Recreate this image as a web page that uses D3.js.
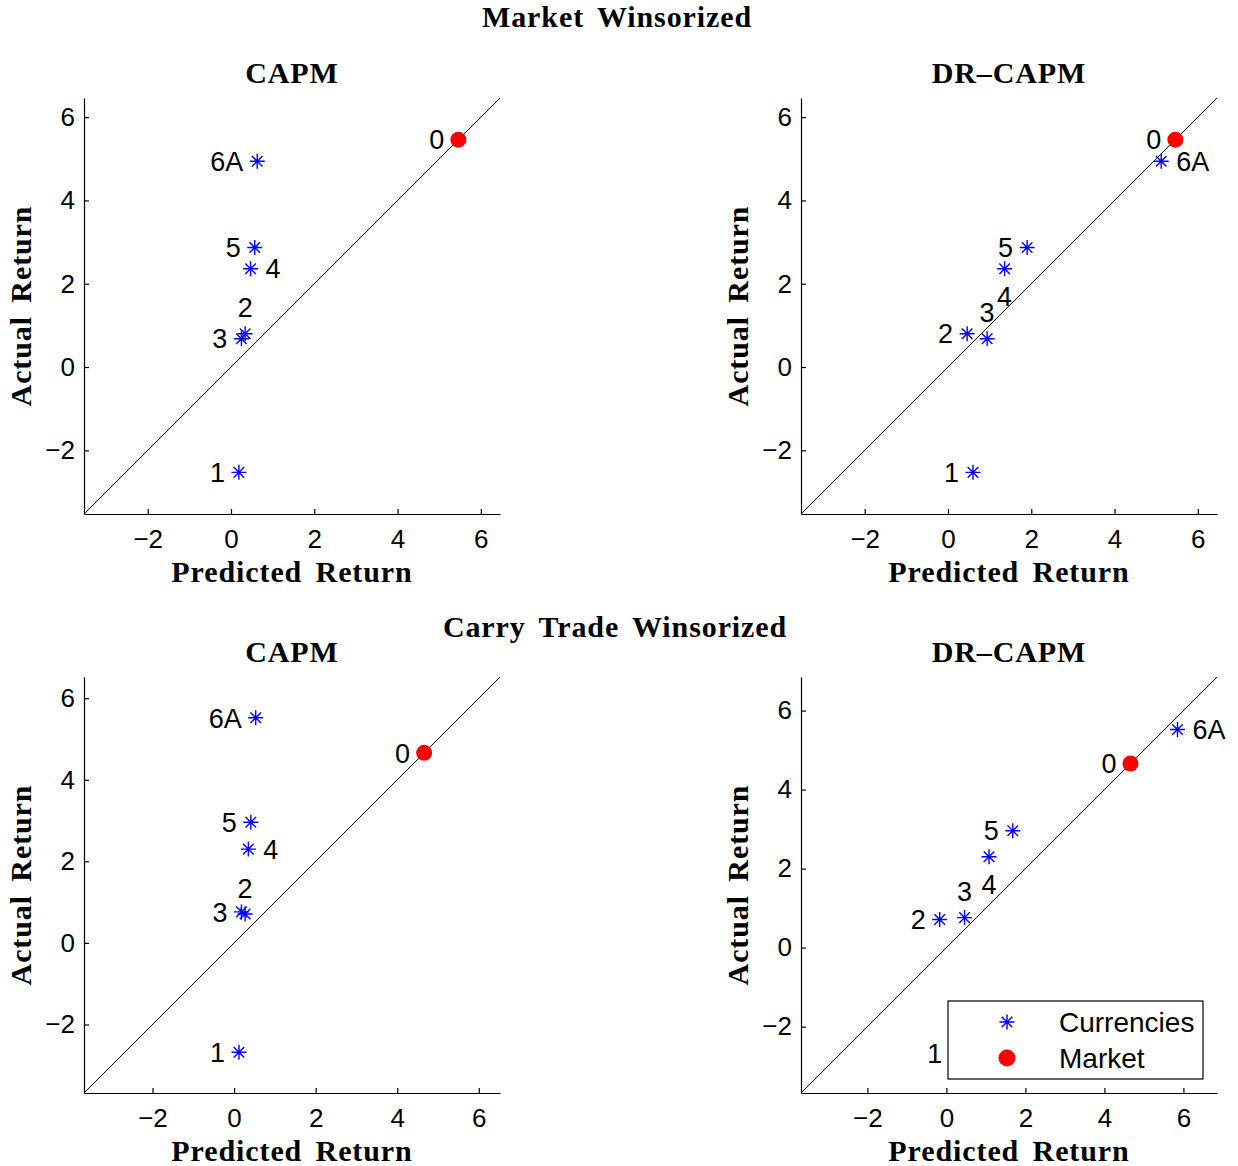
<!DOCTYPE html>
<html>
<head>
<meta charset="utf-8">
<script src="https://cdn.jsdelivr.net/npm/d3@7"></script>
<style>
  body { margin: 0; background: #fff; }
  .ttl { font-family: "Liberation Serif", "Times New Roman", serif; font-weight: bold; font-size: 30px; fill: #000; word-spacing: 5px; letter-spacing: 0.9px; }
  .lbl { font-family: "Liberation Sans", Arial, sans-serif; font-size: 27px; fill: #000; }
</style>
</head>
<body>
<svg id="fig" width="1238" height="1166"></svg>
<script>
// portfolios
var names = ["1", "2", "3", "4", "5", "6A"];

// Market winsorized
var mktActual   = [-2.53, 0.80, 0.68, 2.36, 2.87, 4.94];
var mktCapmPred = [0.19, 0.34, 0.25, 0.47, 0.57, 0.63];
var mktDrPred   = [0.60, 0.46, 0.94, 1.36, 1.90, 5.12];
var mktMarket   = 5.46;

// Carry trade winsorized
var ctActual   = [-2.68, 0.71, 0.76, 2.30, 2.96, 5.52];
var ctCapmPred = [0.12, 0.27, 0.18, 0.35, 0.41, 0.53];
var ctDrPred   = [0.25, -0.17, 0.46, 1.08, 1.68, 5.85];
var ctMarket   = 4.66;

var tickVals = [-2, 0, 2, 4, 6];

// layout
var size = 416;
var panels = [
  {title: "CAPM",    pred: mktCapmPred, actual: mktActual, market: mktMarket, x0: 84,  y0: 98,  place: ["l","u","l","r","l","l"]},
  {title: "DR\u2013CAPM", pred: mktDrPred, actual: mktActual, market: mktMarket, x0: 801, y0: 98,  place: ["l","l","u","d","l","r"]},
  {title: "CAPM",    pred: ctCapmPred, actual: ctActual, market: ctMarket, x0: 84,  y0: 677, place: ["l","u","l","r","l","l"]},
  {title: "DR\u2013CAPM", pred: ctDrPred, actual: ctActual, market: ctMarket, x0: 801, y0: 677, place: ["l","l","u","d","l","r"], legend: true}
];

var svg = d3.select("#fig");
var starPath = "M-7.5,0H7.5M0,-7.5V7.5M-5.3,-5.3L5.3,5.3M-5.3,5.3L5.3,-5.3";
var fmt = function(d) { return d < 0 ? "\u2212" + (-d) : "" + d; };

svg.append("text").attr("class", "ttl").attr("x", 617).attr("y", 27)
  .attr("text-anchor", "middle").text("Market Winsorized");
svg.append("text").attr("class", "ttl").attr("x", 615).attr("y", 637)
  .attr("text-anchor", "middle").text("Carry Trade Winsorized");

panels.forEach(function(p) {
  var all = p.pred.concat(p.actual, [p.market]);
  var lo = d3.min(all) - 1, hi = d3.max(all) + 1;
  var x = d3.scaleLinear().domain([lo, hi]).range([0, size]);
  var y = d3.scaleLinear().domain([lo, hi]).range([size, 0]);

  var g = svg.append("g").attr("transform", "translate(" + p.x0 + "," + p.y0 + ")");

  // 45 degree line
  g.append("line")
    .attr("x1", x(lo)).attr("y1", y(lo))
    .attr("x2", x(hi)).attr("y2", y(hi))
    .attr("stroke", "#000").attr("stroke-width", 1);

  var xa = g.append("g").attr("transform", "translate(0," + size + ")")
    .call(d3.axisBottom(x).tickValues(tickVals).tickFormat(fmt)
      .tickSizeInner(-5).tickSizeOuter(0).tickPadding(16));
  var ya = g.append("g")
    .call(d3.axisLeft(y).tickValues(tickVals).tickFormat(fmt)
      .tickSizeInner(-5).tickSizeOuter(0).tickPadding(9));
  [xa, ya].forEach(function(a) {
    a.attr("font-family", "Liberation Sans, Arial, sans-serif").attr("font-size", 26);
    a.selectAll("path, line").attr("stroke", "#000").attr("stroke-width", 1.2);
    a.selectAll("text").attr("fill", "#000");
  });

  g.append("text").attr("class", "ttl").attr("x", size / 2).attr("y", -15)
    .attr("text-anchor", "middle").text(p.title);
  g.append("text").attr("class", "ttl").attr("x", size / 2).attr("y", size + 68)
    .attr("text-anchor", "middle").text("Predicted Return");
  g.append("text").attr("class", "ttl")
    .attr("transform", "translate(-53," + (size / 2) + ") rotate(-90)")
    .attr("text-anchor", "middle").text("Actual Return");

  var pts = p.pred.map(function(v, i) { return {x: v, y: p.actual[i], name: names[i], place: p.place[i]}; });

  g.selectAll(".star").data(pts).enter().append("path")
    .attr("class", "star")
    .attr("transform", function(d) { return "translate(" + x(d.x) + "," + y(d.y) + ")"; })
    .attr("d", starPath)
    .attr("stroke", "#0000ff").attr("stroke-width", 1.4).attr("fill", "none");

  g.selectAll(".plbl").data(pts).enter().append("text")
    .attr("class", "lbl plbl")
    .attr("x", function(d) {
      if (d.place == "l") return x(d.x) - 14;
      if (d.place == "r") return x(d.x) + 15;
      return x(d.x);
    })
    .attr("y", function(d) {
      if (d.place == "u") return y(d.y) - 26;
      if (d.place == "d") return y(d.y) + 28;
      return y(d.y);
    })
    .attr("dy", "0.36em")
    .attr("text-anchor", function(d) {
      return d.place == "l" ? "end" : (d.place == "r" ? "start" : "middle");
    })
    .text(function(d) { return d.name; });

  g.append("circle").attr("cx", x(p.market)).attr("cy", y(p.market)).attr("r", 8).attr("fill", "#ff0000");
  g.append("text").attr("class", "lbl")
    .attr("x", x(p.market) - 14).attr("y", y(p.market)).attr("dy", "0.36em")
    .attr("text-anchor", "end").text("0");

  if (p.legend) {
    var lg = g.append("g").attr("transform", "translate(147,324)");
    lg.append("rect").attr("width", 255).attr("height", 78)
      .attr("fill", "#fff").attr("stroke", "#000").attr("stroke-width", 1.2);
    lg.append("path").attr("d", starPath).attr("transform", "translate(59,21)")
      .attr("stroke", "#0000ff").attr("stroke-width", 1.4).attr("fill", "none");
    lg.append("circle").attr("cx", 59).attr("cy", 57).attr("r", 8.5).attr("fill", "#ff0000");
    lg.append("text").attr("class", "lbl").attr("x", 111).attr("y", 21).attr("dy", "0.36em")
      .style("font-size", "28px").text("Currencies");
    lg.append("text").attr("class", "lbl").attr("x", 111).attr("y", 57).attr("dy", "0.36em")
      .style("font-size", "28px").text("Market");
  }
});
</script>
</body>
</html>
